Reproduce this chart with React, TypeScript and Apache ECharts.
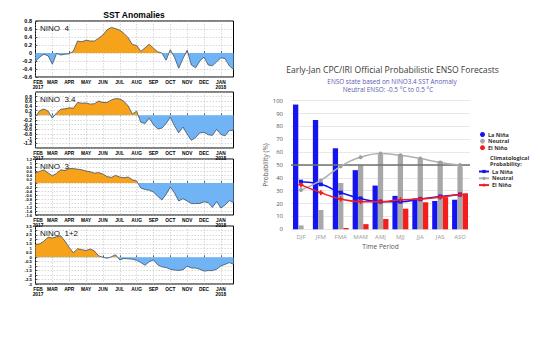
import React, { useEffect, useRef } from 'react';
import * as echarts from 'echarts';

// ---------- Left: SST anomalies (quarter-month samples, Feb 2017 - Jan 2018) ----------
const monthLabels = ['FEB\n2017', 'MAR', 'APR', 'MAY', 'JUN', 'JUL', 'AUG', 'SEP', 'OCT', 'NOV', 'DEC', 'JAN\n2018'];
const weekIndex = Array.from({ length: 48 }, (_, i) => String(i));

const nino4 = [-0.21, -0.1, -0.03, -0.07, -0.28, -0.01, -0.05, -0.03, -0.02, 0.05, 0.3, 0.28, 0.32, 0.3, 0.3, 0.37, 0.45, 0.58, 0.64, 0.61, 0.57, 0.49, 0.38, 0.21, 0.19, 0.04, 0.13, 0.22, 0.12, 0.03, 0.0, -0.18, 0.08, -0.11, -0.38, -0.14, 0.07, -0.3, -0.37, -0.2, -0.1, -0.3, -0.32, -0.22, -0.12, -0.14, -0.32, -0.41];
const nino34 = [-0.05, 0.2, 0.27, 0.18, -0.12, 0.1, 0.26, 0.28, 0.32, 0.3, 0.55, 0.52, 0.53, 0.48, 0.5, 0.61, 0.55, 0.55, 0.66, 0.72, 0.7, 0.6, 0.4, 0.06, 0.18, -0.3, -0.35, -0.12, -0.4, -0.58, -0.55, -0.35, -0.08, -0.45, -0.75, -0.5, -0.8, -1.07, -0.95, -0.75, -0.73, -0.83, -0.86, -0.6, -0.82, -0.88, -0.65, -0.64];
const nino3 = [0.5, 0.58, 0.66, 0.5, 0.36, 0.48, 0.66, 0.62, 0.72, 0.72, 0.69, 0.66, 0.6, 0.56, 0.49, 0.52, 0.45, 0.32, 0.28, 0.38, 0.3, 0.26, 0.3, 0.16, 0.1, -0.25, -0.33, -0.36, -0.45, -0.66, -0.85, -0.57, -0.2, -0.5, -0.9, -0.78, -0.9, -1.03, -1.03, -1.02, -0.94, -0.98, -1.22, -0.92, -1.25, -1.1, -0.88, -0.98];
const nino12 = [1.43, 1.5, 1.8, 2.25, 2.15, 2.3, 2.4, 1.8, 1.1, 0.5, 0.95, 0.85, 0.75, 0.92, 0.7, 0.15, 0.0, -0.12, 0.05, 0.28, -0.3, -0.14, -0.18, -0.22, -0.35, -0.6, -0.9, -0.5, -0.3, -0.85, -1.08, -1.15, -1.35, -1.43, -1.48, -1.4, -1.0, -1.21, -1.21, -1.35, -1.55, -1.5, -1.5, -1.35, -0.98, -0.8, -0.6, -0.79];

// ---------- Right: ENSO probabilistic forecast ----------
const periods = ['DJF', 'JFM', 'FMA', 'MAM', 'AMJ', 'MJJ', 'JJA', 'JAS', 'ASO'];
const laNina = [97, 85, 63, 46, 34, 26, 24, 22, 23];
const neutral = [3, 15, 36, 50, 58, 58, 55, 53, 49];
const elNino = [0, 0, 1, 4, 8, 16, 21, 25, 28];
const climLaNina = [37, 35, 28.5, 24, 21.5, 21.5, 23.5, 25.5, 27];
const climNeutral = [30.5, 38, 49, 56, 59, 57.5, 55, 52, 50];
const climElNino = [34.5, 28.5, 23.5, 21.5, 21.5, 23, 23.5, 25, 27];

const ORANGE = '#f7a21b';
const LIGHTBLUE = '#70b4f5';
const OUTLINE = '#3f4f63';
const BLUE = '#1414f0';
const GRAY = '#a8a8a8';
const RED = '#f41c1c';
const LF = 'Liberation Sans';
const RF = 'Open Sans';

const panels = [
  { name: 'NINO  4', data: nino4, min: -0.6, max: 0.8, interval: 0.2, top: 21, height: 56, hideEnds: false, fs: 5.5 },
  { name: 'NINO  3.4', data: nino34, min: -1.4, max: 1.0, interval: 0.2, top: 92, height: 56, hideEnds: true, fs: 5 },
  { name: 'NINO  3', data: nino3, min: -1.6, max: 1.2, interval: 0.2, top: 159, height: 56, hideEnds: false, fs: 4 },
  { name: 'NINO  1+2', data: nino12, min: -3, max: 3.5, interval: 0.5, top: 226, height: 58, hideEnds: false, fs: 4.3 },
];

// area fill: orange above zero, blue below (gradient over the polygon's own bounding box)
function splitFill(data: number[]) {
  const hi = Math.max(0, ...data);
  const lo = Math.min(0, ...data);
  const f = hi - lo > 0 ? hi / (hi - lo) : 0.5;
  return new echarts.graphic.LinearGradient(0, 0, 0, 1, [
    { offset: 0, color: ORANGE },
    { offset: f, color: ORANGE },
    { offset: f, color: LIGHTBLUE },
    { offset: 1, color: LIGHTBLUE },
  ]);
}

const monthFont = { fontSize: 4.8, fontWeight: 'bold', fontFamily: LF, color: '#000', lineHeight: 5 };

export default function App() {
  const ref = useRef<HTMLDivElement>(null);
  useEffect(() => {
    if (!ref.current) return;
    const chart = echarts.init(ref.current, null, { renderer: 'svg' });

    const grids: any[] = [];
    const xAxes: any[] = [];
    const yAxes: any[] = [];
    const series: any[] = [];
    const graphics: any[] = [];

    panels.forEach((p, k) => {
      grids.push({ left: 35.5, top: p.top, width: 198, height: p.height, show: true, borderColor: '#000', borderWidth: 1, backgroundColor: 'transparent' });
      xAxes.push({
        type: 'category', gridIndex: k, data: weekIndex, boundaryGap: false,
        axisLine: { show: false },
        axisTick: { show: true, inside: true, length: 2, interval: 3, lineStyle: { color: '#000', width: 0.6 } },
        axisLabel: {
          interval: 3, margin: 2.5, ...monthFont,
          formatter: (_v: string, i: number) => {
            const t = monthLabels[i / 4] ?? '';
            if (i === 0) return t.split('\n').map((s) => `{f|${s}}`).join('\n');
            return t;
          },
          rich: { f: { ...monthFont, padding: [0, 0, 0, 5] } },
        },
        splitLine: { show: true, interval: 3, lineStyle: { type: [1.5, 1.5], color: '#b0b0b0', width: 0.5 } },
      });
      yAxes.push({
        type: 'value', gridIndex: k, min: p.min, max: p.max, interval: p.interval,
        axisLine: { show: false },
        axisTick: { show: true, inside: true, length: 2, lineStyle: { color: '#000', width: 0.6 } },
        axisLabel: { fontSize: p.fs, lineHeight: p.fs, fontWeight: 'bold', fontFamily: LF, color: '#000', margin: 3.5, showMinLabel: !p.hideEnds, showMaxLabel: !p.hideEnds },
        splitLine: { show: true, lineStyle: { type: [1.5, 1.5], color: '#b0b0b0', width: 0.5 } },
      });
      series.push({
        type: 'line', xAxisIndex: k, yAxisIndex: k, data: p.data, symbol: 'none',
        lineStyle: { width: 0 }, areaStyle: { opacity: 1, color: splitFill(p.data) }, z: 2, silent: true,
      });
      series.push({
        type: 'line', xAxisIndex: k, yAxisIndex: k, data: p.data, symbol: 'none',
        lineStyle: { width: 0.8, color: OUTLINE }, itemStyle: { color: OUTLINE }, z: 3, silent: true,
      });
      graphics.push({
        type: 'text', x: 40, y: p.top + 7.5,
        style: { text: p.name, font: `8px "${LF}"`, fill: '#111', textAlign: 'left', textVerticalAlign: 'middle', align: 'left', verticalAlign: 'middle' },
        z: 10,
      });
    });

    graphics.push({
      type: 'text', x: 134, y: 15,
      style: { text: 'SST Anomalies', font: `bold 8.5px "${LF}"`, fill: '#000', textAlign: 'center', textVerticalAlign: 'middle', align: 'center', verticalAlign: 'middle' },
    });

    // Right chart
    const rg = panels.length;
    grids.push({ left: 291, top: 100.7, width: 179, height: 128.6 });
    xAxes.push({
      type: 'category', gridIndex: rg, data: periods,
      axisLine: { show: false }, axisTick: { show: false },
      axisLabel: { fontSize: 6, color: '#999', fontFamily: RF, margin: 5 },
      name: 'Time Period', nameLocation: 'middle', nameGap: 14,
      nameTextStyle: { fontSize: 6.5, color: '#555', fontFamily: RF },
    });
    yAxes.push({
      type: 'value', gridIndex: rg, min: 0, max: 100, interval: 10,
      axisLine: { show: false }, axisTick: { show: false },
      axisLabel: { fontSize: 6, color: '#555', fontFamily: RF, margin: 8 },
      splitLine: { lineStyle: { color: '#e8e8e8', width: 1 } },
      name: 'Probability (%)', nameLocation: 'middle', nameGap: 22, nameRotate: 90,
      nameTextStyle: { fontSize: 6.5, color: '#555', fontFamily: RF },
    });
    const barBase = { type: 'bar', xAxisIndex: rg, yAxisIndex: rg, barCategoryGap: '20%', barGap: '0%' };
    series.push({ ...barBase, name: 'La Niña', data: laNina, itemStyle: { color: BLUE } });
    series.push({
      ...barBase, name: 'Neutral', data: neutral, itemStyle: { color: GRAY },
      markLine: { silent: true, symbol: 'none', label: { show: false }, lineStyle: { color: '#707070', width: 1.5, type: 'solid' }, data: [{ yAxis: 50 }], z: 5 },
    });
    series.push({ ...barBase, name: 'El Niño', data: elNino, itemStyle: { color: RED } });
    const lineBase = { type: 'line', xAxisIndex: rg, yAxisIndex: rg, smooth: true, symbolSize: 4, z: 6 };
    series.push({ ...lineBase, name: 'clim La Niña', data: climLaNina, symbol: 'rect', lineStyle: { color: BLUE, width: 1.5 }, itemStyle: { color: BLUE } });
    series.push({ ...lineBase, name: 'clim Neutral', data: climNeutral, symbol: 'circle', lineStyle: { color: '#b0b0b0', width: 1.5 }, itemStyle: { color: '#a0a0a0' } });
    series.push({ ...lineBase, name: 'clim El Niño', data: climElNino, symbol: 'path://M2,0H4V2H6V4H4V6H2V4H0V2H2Z', symbolSize: 5, lineStyle: { color: RED, width: 1.5 }, itemStyle: { color: RED } });

    graphics.push({
      type: 'text', x: 392.5, y: 70,
      style: { text: 'Early-Jan CPC/IRI Official Probabilistic ENSO Forecasts', font: `8.6px "${RF}"`, fill: '#3a3a3a', textAlign: 'center', textVerticalAlign: 'middle', align: 'center', verticalAlign: 'middle' },
    });
    graphics.push({
      type: 'text', x: 392, y: 81.5,
      style: { text: 'ENSO state based on NINO3.4 SST Anomaly', font: `6.4px "${RF}"`, fill: '#5a5ab4', textAlign: 'center', textVerticalAlign: 'middle', align: 'center', verticalAlign: 'middle' },
    });
    graphics.push({
      type: 'text', x: 388, y: 89.5,
      style: { text: 'Neutral ENSO: -0.5 °C to 0.5 °C', font: `6.4px "${RF}"`, fill: '#5a5ab4', textAlign: 'center', textVerticalAlign: 'middle', align: 'center', verticalAlign: 'middle' },
    });
    graphics.push({
      type: 'text', x: 490, y: 157.5,
      style: { text: 'Climatological', font: `bold 5.5px "${RF}"`, fill: '#333', textAlign: 'left', textVerticalAlign: 'middle', align: 'left', verticalAlign: 'middle' },
    });
    graphics.push({
      type: 'text', x: 490, y: 164,
      style: { text: 'Probability:', font: `bold 5.5px "${RF}"`, fill: '#333', textAlign: 'left', textVerticalAlign: 'middle', align: 'left', verticalAlign: 'middle' },
    });

    chart.setOption({
      animation: false,
      backgroundColor: '#fff',
      grid: grids,
      xAxis: xAxes,
      yAxis: yAxes,
      legend: [
        {
          data: ['La Niña', 'Neutral', 'El Niño'], orient: 'vertical', left: 480, top: 131.5,
          icon: 'circle', itemWidth: 5, itemHeight: 5, itemGap: 0.6, padding: 0,
          textStyle: { fontSize: 5.5, lineHeight: 5, fontWeight: 'bold', color: '#333', fontFamily: RF, padding: [0, 0, 0, -2] },
        },
        {
          data: ['clim La Niña', 'clim Neutral', 'clim El Niño'], orient: 'vertical', left: 478, top: 168.5,
          itemWidth: 10, itemHeight: 4, itemGap: 0.8, padding: 0,
          formatter: (n: string) => n.replace('clim ', ''),
          textStyle: { fontSize: 5.5, lineHeight: 4.5, fontWeight: 'bold', color: '#333', fontFamily: RF, padding: [0, 0, 0, -2] },
        },
      ],
      graphic: graphics,
      series,
    });
    return () => chart.dispose();
  }, []);
  return <div ref={ref} style={{ position: 'absolute', left: 0, top: 0, width: 541, height: 351, background: '#fff' }} />;
}
